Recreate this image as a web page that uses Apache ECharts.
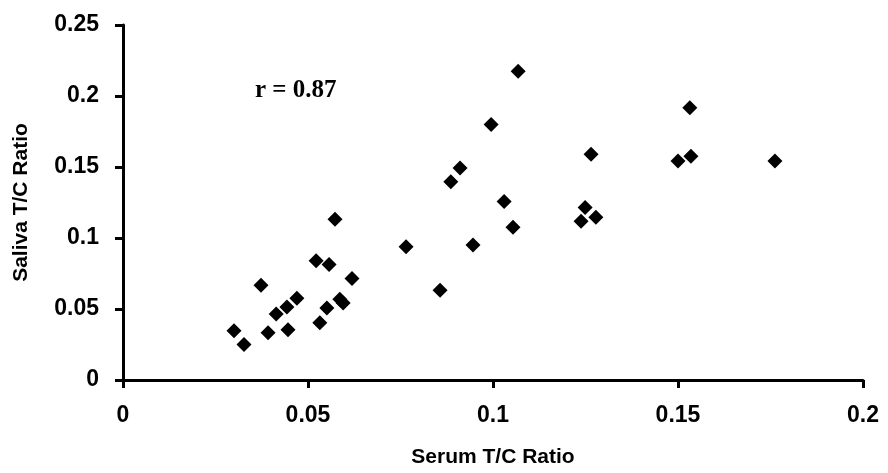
<!DOCTYPE html>
<html>
<head>
<meta charset="utf-8">
<script src="https://cdn.jsdelivr.net/npm/echarts@6/dist/echarts.min.js"></script>
<style>
  html, body { margin: 0; padding: 0; background: #fff; }
  #chart { width: 888px; height: 473px; }
</style>
</head>
<body>
<div id="chart"></div>
<script>
// serum vs saliva T/C ratio
const serum = [
  0.1068, 0.1532, 0.0995, 0.1265, 0.1535, 0.1500, 0.1762, 0.0911, 0.0886,
  0.1030, 0.0573, 0.1249, 0.1278, 0.1238, 0.1054, 0.0946, 0.0765, 0.0522,
  0.0557, 0.0619, 0.0373, 0.0857, 0.0470, 0.0443, 0.0414, 0.0586, 0.0595,
  0.0551, 0.0532, 0.0300, 0.0327, 0.0392, 0.0446
];
const saliva = [
  0.2174, 0.1917, 0.1799, 0.1590, 0.1576, 0.1542, 0.1542, 0.1493, 0.1396,
  0.1257, 0.1132, 0.1215, 0.1146, 0.1118, 0.1076, 0.0951, 0.0938, 0.0840,
  0.0813, 0.0715, 0.0667, 0.0632, 0.0576, 0.0514, 0.0465, 0.0569, 0.0542,
  0.0507, 0.0403, 0.0347, 0.0250, 0.0333, 0.0354
];
const xTicks = ['0', '0.05', '0.1', '0.15', '0.2'];
const yTicks = ['0', '0.05', '0.1', '0.15', '0.2', '0.25'];
const rLabel = 'r = 0.87';

const points = serum.map((v, i) => [v, saliva[i]]);
const font = 'Liberation Sans, Arial, sans-serif';

const chart = echarts.init(document.getElementById('chart'));

function axisBase() {
  return {
    axisLine: { show: true, lineStyle: { color: '#000', width: 3 } },
    axisTick: { show: true, length: 8, lineStyle: { color: '#000', width: 3 } },
    splitLine: { show: false },
    nameLocation: 'middle',
    nameTextStyle: { color: '#000', fontFamily: font, fontWeight: 'bold', fontSize: 21 }
  };
}

chart.setOption({
  animation: false,
  backgroundColor: '#fff',
  grid: { left: 123, right: 25, top: 25, bottom: 88, containLabel: false },
  xAxis: Object.assign(axisBase(), {
    type: 'value',
    min: 0, max: 0.2, interval: 0.05,
    name: 'Serum T/C Ratio',
    nameGap: 67,
    axisLabel: {
      margin: 24, color: '#000', fontFamily: font, fontWeight: 'bold', fontSize: 23,
      formatter: (v, i) => xTicks[i]
    }
  }),
  yAxis: Object.assign(axisBase(), {
    type: 'value',
    min: 0, max: 0.25, interval: 0.05,
    name: 'Saliva T/C Ratio',
    nameGap: 91,
    axisLabel: {
      margin: 24, color: '#000', fontFamily: font, fontWeight: 'bold', fontSize: 23,
      formatter: (v, i) => yTicks[i]
    }
  }),
  graphic: [{
    type: 'text',
    left: 255,
    top: 78,
    style: {
      text: rLabel,
      fill: '#000',
      font: 'bold 25px "Liberation Serif", "Times New Roman", serif'
    }
  }],
  series: [{
    type: 'scatter',
    symbol: 'diamond',
    symbolSize: 15,
    itemStyle: { color: '#000', opacity: 1 },
    data: points
  }]
});
</script>
</body>
</html>
